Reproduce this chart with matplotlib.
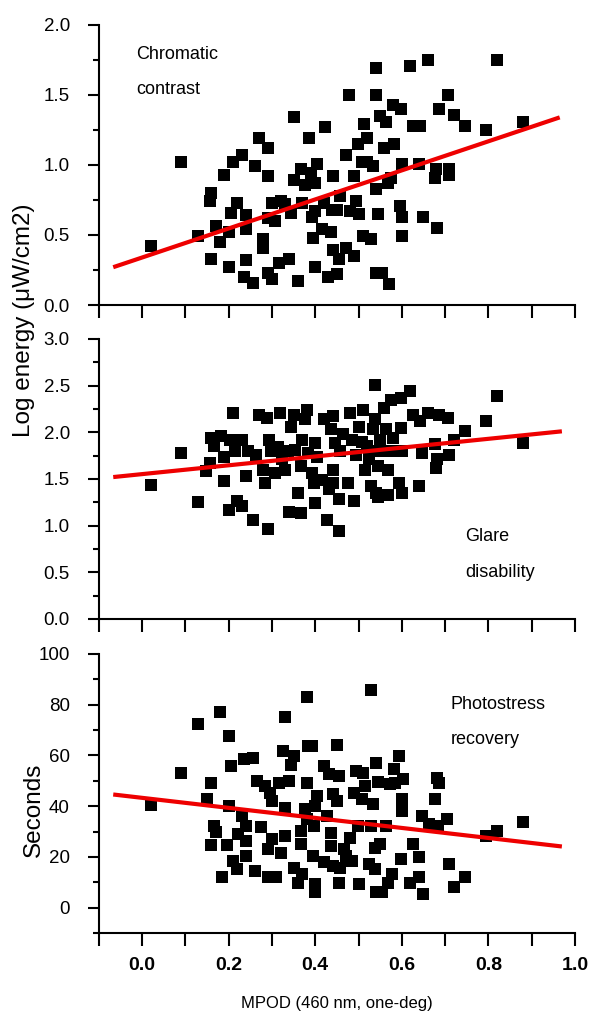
import numpy as np
import matplotlib
matplotlib.use("Agg")
import matplotlib.pyplot as plt
from matplotlib.ticker import MultipleLocator

plt.rcParams['font.family'] = ['Liberation Sans', 'DejaVu Sans']

# Chromatic contrast (top panel)
cc_x = [0.02, 0.09, 0.13, 0.16, 0.157, 0.16, 0.17, 0.18, 0.19, 0.20, 0.20, 0.205, 0.21, 0.22, 0.23,
        0.24, 0.24, 0.24, 0.235, 0.255, 0.26, 0.27, 0.28, 0.28, 0.29, 0.29, 0.29, 0.29, 0.30, 0.30,
        0.306, 0.315, 0.32, 0.33, 0.34, 0.345, 0.35, 0.35, 0.36, 0.367, 0.37, 0.376, 0.385, 0.39,
        0.393, 0.395, 0.40, 0.40, 0.404, 0.40, 0.415, 0.42, 0.423, 0.43, 0.436, 0.438, 0.44, 0.44,
        0.45, 0.45, 0.454, 0.458, 0.47, 0.47, 0.479, 0.48, 0.489, 0.489, 0.493, 0.498, 0.50, 0.507,
        0.51, 0.513, 0.52, 0.52, 0.528, 0.533, 0.54, 0.54, 0.54, 0.54, 0.545, 0.55, 0.555, 0.56,
        0.563, 0.567, 0.57, 0.576, 0.58, 0.583, 0.598, 0.595, 0.60, 0.60, 0.60, 0.62, 0.625, 0.642,
        0.64, 0.65, 0.66, 0.677, 0.68, 0.681, 0.685, 0.706, 0.709, 0.72, 0.745, 0.795, 0.82, 0.88, 0.71]
cc_y = [0.42, 1.02, 0.49, 0.33, 0.74, 0.80, 0.565, 0.45, 0.93, 0.52, 0.27, 0.66, 1.02, 0.73, 1.07,
        0.64, 0.54, 0.32, 0.20, 0.16, 0.99, 1.19, 0.47, 0.41, 1.12, 0.92, 0.62, 0.23, 0.185, 0.73,
        0.60, 0.30, 0.74, 0.72, 0.33, 0.66, 1.34, 0.89, 0.17, 0.97, 0.73, 0.86, 1.19, 0.945,
        0.625, 0.48, 0.87, 0.275, 1.005, 0.67, 0.54, 0.73, 1.27, 0.20, 0.52, 0.68, 0.92, 0.39,
        0.22, 0.68, 0.33, 0.78, 0.41, 1.07, 1.50, 0.67, 0.92, 0.35, 0.74, 1.15, 0.65, 1.02,
        0.49, 1.29, 1.19, 1.02, 0.47, 0.995, 1.50, 1.69, 0.23, 0.83, 0.65, 1.35, 0.23, 1.12,
        1.31, 0.87, 0.15, 0.91, 1.43, 1.15, 1.40, 0.71, 0.625, 0.49, 1.005, 1.705, 1.28, 1.28,
        1.005, 0.625, 1.75, 0.91, 0.97, 0.55, 1.40, 1.50, 0.97, 1.36, 1.28, 1.25, 1.75, 1.31, 0.93]
cc_fit_x = [-0.067, 0.965]
cc_fit_y = [0.27, 1.34]

# Glare disability (middle panel)
gd_x = [0.02, 0.09, 0.13, 0.148, 0.157, 0.16, 0.166, 0.183, 0.188, 0.19, 0.20, 0.203, 0.21, 0.214,
        0.22, 0.23, 0.23, 0.24, 0.245, 0.257, 0.262, 0.27, 0.28, 0.284, 0.288, 0.29, 0.293, 0.297,
        0.306, 0.314, 0.318, 0.323, 0.33, 0.336, 0.34, 0.345, 0.35, 0.353, 0.36, 0.367, 0.367, 0.37,
        0.376, 0.38, 0.384, 0.393, 0.397, 0.40, 0.40, 0.405, 0.415, 0.42, 0.428, 0.432, 0.437, 0.44,
        0.44, 0.44, 0.445, 0.454, 0.454, 0.458, 0.463, 0.476, 0.48, 0.485, 0.49, 0.493, 0.502, 0.507,
        0.51, 0.515, 0.52, 0.524, 0.528, 0.533, 0.537, 0.537, 0.54, 0.54, 0.545, 0.545, 0.55, 0.559,
        0.563, 0.567, 0.567, 0.567, 0.576, 0.58, 0.585, 0.594, 0.598, 0.598, 0.60, 0.60, 0.62, 0.625,
        0.64, 0.642, 0.646, 0.66, 0.677, 0.68, 0.681, 0.685, 0.707, 0.71, 0.72, 0.747, 0.795, 0.82, 0.88]
gd_y = [1.44, 1.78, 1.25, 1.58, 1.67, 1.94, 1.85, 1.96, 1.74, 1.475, 1.17, 1.92, 2.21, 1.80,
        1.26, 1.21, 1.92, 1.53, 1.80, 1.06, 1.76, 2.19, 1.60, 1.46, 2.15, 0.96, 1.92, 1.80,
        1.56, 1.84, 2.21, 1.71, 1.60, 1.80, 1.15, 2.06, 2.19, 1.81, 1.35, 1.64, 1.14, 1.92,
        2.14, 2.24, 1.78, 1.56, 1.46, 1.89, 1.24, 1.74, 1.49, 2.14, 1.06, 1.39, 2.03, 1.60,
        2.17, 1.46, 1.89, 0.94, 1.28, 1.80, 1.98, 1.46, 2.21, 1.92, 1.26, 1.76, 2.06, 1.90,
        2.24, 1.60, 1.85, 1.71, 1.42, 2.03, 2.51, 2.14, 1.80, 1.35, 1.31, 1.64, 1.92, 2.26,
        2.03, 1.80, 1.60, 1.33, 2.35, 1.94, 1.80, 1.46, 2.37, 2.05, 1.35, 1.80, 2.44, 2.19,
        1.42, 2.12, 1.78, 2.21, 1.87, 1.62, 1.71, 2.19, 2.15, 1.76, 1.92, 2.01, 2.12, 2.39, 1.89]
gd_fit_x = [-0.067, 0.97]
gd_fit_y = [1.52, 2.01]

# Photostress recovery (bottom panel)
pr_x = [0.02, 0.09, 0.13, 0.15, 0.16, 0.16, 0.166, 0.17, 0.18, 0.185, 0.197, 0.20, 0.20, 0.205,
        0.21, 0.22, 0.222, 0.231, 0.236, 0.24, 0.24, 0.24, 0.255, 0.26, 0.266, 0.275, 0.284, 0.29,
        0.29, 0.295, 0.30, 0.30, 0.31, 0.316, 0.32, 0.325, 0.33, 0.33, 0.33, 0.34, 0.345, 0.35,
        0.35, 0.36, 0.367, 0.367, 0.37, 0.376, 0.38, 0.38, 0.38, 0.383, 0.393, 0.395, 0.398, 0.40,
        0.40, 0.40, 0.405, 0.42, 0.421, 0.428, 0.432, 0.437, 0.437, 0.44, 0.44, 0.45, 0.45, 0.454,
        0.454, 0.458, 0.467, 0.472, 0.48, 0.485, 0.489, 0.493, 0.498, 0.502, 0.507, 0.51, 0.515,
        0.524, 0.528, 0.528, 0.533, 0.537, 0.537, 0.54, 0.54, 0.546, 0.55, 0.554, 0.563, 0.568,
        0.572, 0.577, 0.583, 0.585, 0.594, 0.598, 0.60, 0.602, 0.60, 0.62, 0.625, 0.64, 0.64,
        0.646, 0.65, 0.664, 0.677, 0.681, 0.683, 0.686, 0.705, 0.709, 0.72, 0.745, 0.795, 0.82, 0.88]
pr_y = [40.3, 52.9, 72.5, 42.7, 49.0, 24.6, 32.2, 29.8, 77.0, 11.9, 24.6, 40.1, 67.5, 55.8,
        18.5, 15.4, 28.9, 36.1, 58.4, 32.2, 26.3, 20.2, 59.0, 14.3, 49.9, 31.9, 47.9, 23.0,
        11.9, 45.3, 27.0, 42.0, 12.2, 49.2, 21.7, 61.6, 75.1, 39.4, 28.3, 49.9, 56.4, 59.7,
        15.8, 9.9, 30.2, 25.0, 13.2, 38.7, 83.0, 49.2, 34.8, 63.9, 63.9, 20.2, 32.2, 40.1,
        9.3, 6.0, 44.0, 17.8, 55.8, 36.1, 52.5, 29.6, 24.3, 16.5, 44.6, 64.3, 42.0, 51.8,
        9.9, 15.8, 23.0, 20.4, 27.6, 18.5, 45.3, 53.8, 32.2, 9.3, 42.7, 53.1, 47.9,
        17.1, 85.9, 32.2, 40.7, 23.7, 15.2, 57.1, 6.0, 49.5, 25.0, 6.0, 32.2, 9.9,
        48.6, 13.2, 54.5, 49.2, 59.9, 19.1, 42.7, 50.8, 38.1, 9.9, 25.0, 19.8, 11.9,
        36.1, 5.4, 32.9, 42.7, 51.2, 32.2, 49.2, 34.8, 17.1, 8.0, 11.9, 28.3, 30.2, 33.8]
pr_fit_x = [-0.067, 0.97]
pr_fit_y = [44.6, 24.1]

x_ticks = [0.0, 0.2, 0.4, 0.6, 0.8, 1.0]

fig = plt.figure(figsize=(5.89, 10.15), dpi=100)

ax1 = fig.add_axes([0.168, 0.6995, 0.808, 0.2759])
ax2 = fig.add_axes([0.168, 0.3902, 0.808, 0.2759])
ax3 = fig.add_axes([0.168, 0.0808, 0.808, 0.2749])

panels = [
    (ax1, cc_x, cc_y, cc_fit_x, cc_fit_y, (0, 2.0), 0.5, 0.25),
    (ax2, gd_x, gd_y, gd_fit_x, gd_fit_y, (0, 3.0), 0.5, 0.25),
    (ax3, pr_x, pr_y, pr_fit_x, pr_fit_y, (-10, 100), 20, 10),
]

for ax, xs, ys, fx, fy, ylim, major, minor in panels:
    ax.scatter(xs, ys, marker='s', s=74, color='black', linewidths=0, zorder=2)
    ax.plot(fx, fy, color='#ee0000', linewidth=3, solid_capstyle='butt', zorder=3)
    ax.set_xlim(-0.1, 1.0)
    ax.set_ylim(*ylim)
    ax.spines['top'].set_visible(False)
    ax.spines['right'].set_visible(False)
    ax.spines['left'].set_linewidth(1.5)
    ax.spines['bottom'].set_linewidth(1.5)
    ax.xaxis.set_major_locator(MultipleLocator(0.1))
    ax.yaxis.set_major_locator(MultipleLocator(major))
    ax.yaxis.set_minor_locator(MultipleLocator(minor))
    ax.tick_params(axis='x', which='major', direction='out', length=9, width=1.5)
    ax.tick_params(axis='y', which='major', direction='out', length=8, width=1.5,
                   labelsize=13.5, pad=13)
    ax.tick_params(axis='y', which='minor', direction='out', length=4, width=1.5)
    ax.set_xticklabels([])

# y tick labels with one decimal for the log energy panels
for ax in (ax1, ax2):
    ax.yaxis.set_major_formatter(plt.FormatStrFormatter('%.1f'))
ax3.set_yticks([0, 20, 40, 60, 80, 100])

# bottom panel x tick labels (bold, only every 0.2)
ax3.set_xticks(np.arange(-0.1, 1.01, 0.1))
ax3.set_xticklabels(['' if round(t, 1) not in x_ticks else f'{t:.1f}'
                     for t in np.arange(-0.1, 1.01, 0.1)],
                    fontweight='bold', fontsize=14)
ax3.tick_params(axis='x', pad=8)

# Panel annotations
ax1.text(-0.013, 1.786, 'Chromatic', fontsize=13, va='center')
ax1.text(-0.013, 1.536, 'contrast', fontsize=13, va='center')
ax2.text(0.747, 0.886, 'Glare', fontsize=13, va='center')
ax2.text(0.747, 0.493, 'disability', fontsize=13, va='center')
ax3.text(0.712, 80.0, 'Photostress', fontsize=13, va='center')
ax3.text(0.712, 66.2, 'recovery', fontsize=13, va='center')

# Axis labels
fig.text(0.040, 0.684, 'Log energy (\u03bcW/cm2)', rotation=90, fontsize=17.5,
         ha='center', va='center')
fig.text(0.058, 0.202, 'Seconds', rotation=90, fontsize=17.5, ha='center', va='center')
fig.text(0.572, 0.011, 'MPOD (460 nm, one-deg)', fontsize=12, ha='center', va='center')

plt.savefig('out.png', dpi=100)
